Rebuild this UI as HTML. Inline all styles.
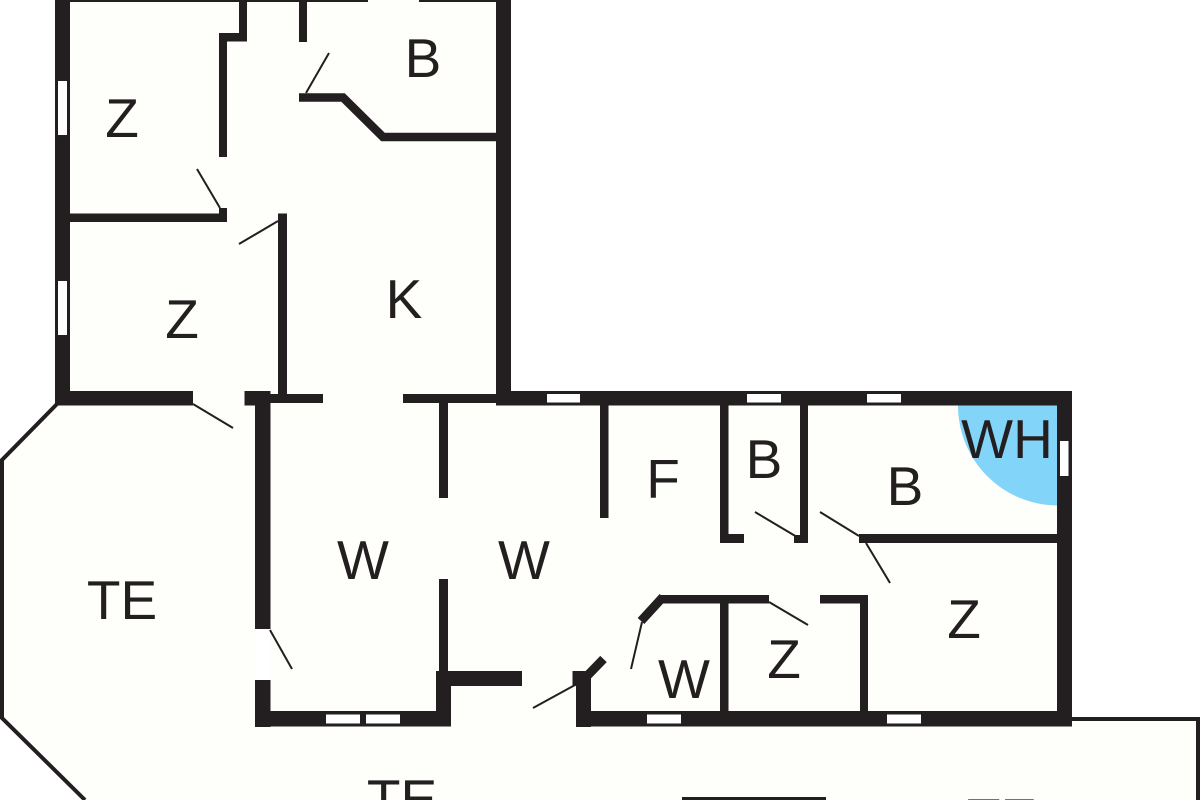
<!DOCTYPE html>
<html>
<head>
<meta charset="utf-8">
<style>
html,body{margin:0;padding:0;background:#fff;width:1200px;height:800px;overflow:hidden}
svg{display:block}
text{font-family:"Liberation Sans",sans-serif;font-size:55px;fill:#231f20;text-anchor:middle}
</style>
</head>
<body>
<svg width="1200" height="800" viewBox="0 0 1200 800" xmlns="http://www.w3.org/2000/svg">
<!-- floor -->
<polygon points="55,0 511,0 511,391 1072,391 1072,719 1198,719 1198,800 85,800 2,718 2,460 57,404" fill="#fefefa"/>
<!-- water heater -->
<path d="M958,405 L1057,405 L1057,505.500 A100,100 0 0 1 958,405 Z" fill="#83d4f9"/>
<!-- door gap -->
<rect x="255" y="629" width="15" height="51" fill="#ffffff"/>
<g fill="#231f20">
<!-- main walls -->
<rect x="55" y="0" width="15" height="405.500"/>
<rect x="70" y="0" width="298" height="2"/>
<rect x="419" y="0" width="78" height="2"/>
<rect x="496" y="0" width="15" height="405.500"/>
<rect x="239" y="0" width="8" height="41.500"/>
<rect x="219" y="33" width="28" height="8.500"/>
<rect x="219" y="33" width="8" height="124"/>
<rect x="299" y="0" width="8" height="42"/>
<rect x="70" y="213.500" width="157" height="8.500"/>
<rect x="219" y="208" width="8" height="14"/>
<rect x="278" y="213.500" width="9" height="182"/>
<rect x="55" y="391" width="138" height="14.500"/>
<rect x="244.500" y="391" width="26" height="14.500"/>
<rect x="270" y="394" width="53" height="9"/>
<rect x="403" y="394" width="94" height="9"/>
<rect x="439" y="403" width="9" height="95"/>
<rect x="255" y="391" width="15.500" height="238"/>
<rect x="255" y="680" width="15.500" height="47"/>
<rect x="255" y="711" width="196" height="15.500"/>
<rect x="436" y="671" width="15" height="55"/>
<rect x="439" y="579" width="9" height="92"/>
<rect x="436" y="671" width="86" height="15"/>
<rect x="572.500" y="671" width="18.500" height="15"/>
<rect x="576" y="671" width="15" height="56"/>
<rect x="576" y="711" width="496" height="15.500"/>
<rect x="496" y="391" width="576" height="14.500"/>
<rect x="1057" y="391" width="15" height="335"/>
<rect x="600" y="405" width="8.500" height="113"/>
<rect x="720" y="405" width="8.500" height="138"/>
<rect x="720" y="534" width="24" height="9"/>
<rect x="800" y="405" width="8" height="138"/>
<rect x="794" y="535" width="14" height="8"/>
<rect x="859" y="534" width="198" height="9"/>
<rect x="661" y="595" width="108" height="8.500"/>
<rect x="820" y="595" width="48" height="8.500"/>
<rect x="860" y="595" width="8" height="117"/>
<rect x="720" y="603" width="8.500" height="108"/>
<rect x="682" y="797" width="144" height="3"/>
</g>
<!-- angled walls -->
<g fill="none" stroke="#231f20" stroke-linejoin="miter">
<polyline points="299,97.500 343,97.500 383,137 496,137" stroke-width="8.500"/>
<line x1="663" y1="597" x2="641" y2="621" stroke-width="9"/>
<line x1="603.500" y1="659" x2="588" y2="675" stroke-width="9"/>
<!-- terrace outline -->
<polyline points="57,404 2,460 2,718 85,800" stroke-width="4"/>
<polyline points="1072,719 1198,719 1198,800" stroke-width="4"/>
<!-- door swings -->
<g stroke-width="2">
<line x1="329" y1="53" x2="306" y2="93"/>
<line x1="197" y1="169" x2="220" y2="208"/>
<line x1="278" y1="221" x2="239" y2="244"/>
<line x1="193" y1="404" x2="233" y2="428"/>
<line x1="270" y1="630" x2="292" y2="669"/>
<line x1="575" y1="685" x2="533" y2="708"/>
<line x1="755" y1="512" x2="797" y2="537"/>
<line x1="820" y1="512" x2="859" y2="536"/>
<line x1="866" y1="543" x2="890" y2="583"/>
<line x1="769" y1="602" x2="808" y2="625"/>
<line x1="642" y1="622" x2="631" y2="669"/>
</g>
</g>
<!-- windows -->
<g fill="#ffffff">
<rect x="58" y="81" width="9" height="54"/>
<rect x="58" y="281" width="9" height="54"/>
<rect x="547" y="394" width="33" height="8.500"/>
<rect x="747" y="394" width="34" height="8.500"/>
<rect x="867" y="394" width="34" height="8.500"/>
<rect x="1060" y="441" width="8.500" height="35"/>
<rect x="326" y="714.500" width="34" height="9"/>
<rect x="366" y="714.500" width="34" height="9"/>
<rect x="647" y="714.500" width="34" height="9"/>
<rect x="887" y="714.500" width="34" height="9"/>
</g>
<!-- labels -->
<text x="122" y="137">Z</text>
<text x="182" y="338">Z</text>
<text x="423" y="77">B</text>
<text x="404" y="318">K</text>
<text x="122" y="619">TE</text>
<text x="363" y="579">W</text>
<text x="524" y="579">W</text>
<text x="402" y="818">TE</text>
<text x="663" y="498">F</text>
<text x="764" y="478">B</text>
<text x="905" y="505">B</text>
<text x="1007" y="458">WH</text>
<text x="964" y="638">Z</text>
<text x="784" y="678">Z</text>
<text x="684" y="698">W</text>
<text x="1002" y="837">TE</text>
</svg>
</body>
</html>
